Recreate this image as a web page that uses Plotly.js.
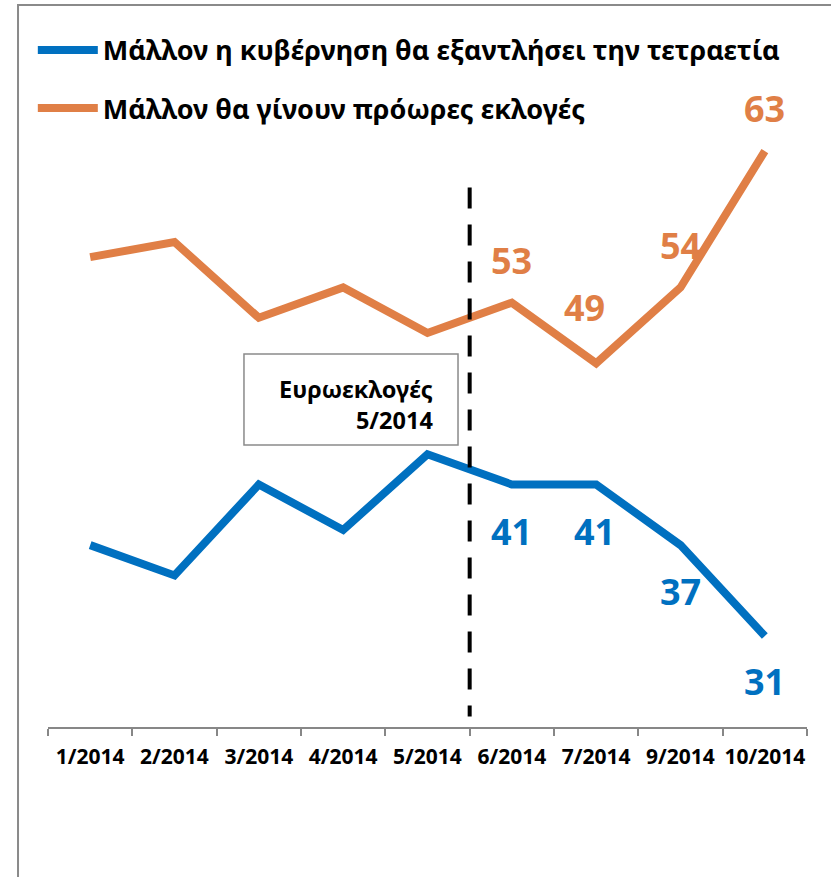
<!DOCTYPE html>
<html>
<head>
<meta charset="utf-8">
<script src="https://cdn.plot.ly/plotly-3.0.1.min.js"></script>
<style>html,body{margin:0;padding:0;background:#fff;}#chart{width:831px;height:877px;}</style>
</head>
<body>
<div id="chart"></div>
<script>
const categories = ["1/2014","2/2014","3/2014","4/2014","5/2014","6/2014","7/2014","9/2014","10/2014"];
const seriesNames = ["Μάλλον η κυβέρνηση θα εξαντλήσει την τετραετία", "Μάλλον θα γίνουν πρόωρες εκλογές"];
const governmentLasts = [37, 35, 41, 38, 43, 41, 41, 37, 31];
const earlyElections = [56, 57, 52, 54, 51, 53, 49, 54, 63];
const labelledIdx = [5, 6, 7, 8];
const eventLabel = "Ευρωεκλογές<br>5/2014";
const eventPosition = 4.5;

const BLUE = "#0070C0";
const ORANGE = "#E07F46";
const FONT = "Noto Sans, DejaVu Sans, sans-serif";

const traces = [
  {x: categories, y: governmentLasts, name: seriesNames[0], type: "scatter", mode: "lines",
   line: {color: BLUE, width: 8, shape: "linear"}, legendgroup: "a", hoverinfo: "skip"},
  {x: categories, y: earlyElections, name: seriesNames[1], type: "scatter", mode: "lines",
   line: {color: ORANGE, width: 8}, legendgroup: "b", hoverinfo: "skip"}
];

const annotations = [];
const orangeShift = {5: [0, 42], 6: [-12, 56], 7: [0, 42], 8: [0, 43]};
const blueShift = {5: [0, -47], 6: [-2, -47], 7: [0, -46], 8: [0, -45]};
labelledIdx.forEach(i => {
  annotations.push({x: categories[i], y: earlyElections[i], text: String(earlyElections[i]), showarrow: false,
    xshift: orangeShift[i][0], yshift: orangeShift[i][1], font: {family: FONT, size: 36, color: ORANGE, weight: "bold"}});
  annotations.push({x: categories[i], y: governmentLasts[i], text: String(governmentLasts[i]), showarrow: false,
    xshift: blueShift[i][0], yshift: blueShift[i][1], font: {family: FONT, size: 36, color: BLUE, weight: "bold"}});
});
annotations.push({xref: "paper", yref: "paper", x: 0.5099, y: 0.4736, xanchor: "right", yanchor: "middle",
  text: eventLabel, align: "right", showarrow: false, font: {family: FONT, size: 23.5, color: "#000", weight: "bold"}});

const layout = {
  width: 831, height: 877,
  margin: {l: 48, r: 24, t: 45, b: 150},
  paper_bgcolor: "#fff", plot_bgcolor: "#fff",
  showlegend: true,
  legend: {x: -0.02, xanchor: "left", y: 1.028, yanchor: "top", orientation: "v",
    font: {family: FONT, size: 27, color: "#000", weight: "bold"}, tracegroupgap: 20, itemwidth: 60,
    bgcolor: "rgba(0,0,0,0)"},
  xaxis: {type: "category", range: [-0.5, 8.5], showgrid: false, zeroline: false,
    showline: true, linecolor: "#878787", linewidth: 2, ticks: "outside", tickson: "boundaries",
    ticklen: 7, tickwidth: 2, tickcolor: "#878787", tickangle: 0, ticklabelstandoff: 10,
    tickfont: {family: FONT, size: 21, color: "#000", weight: "bold"}, fixedrange: true},
  yaxis: {range: [25, 70], visible: false, showgrid: false, zeroline: false, fixedrange: true},
  shapes: [
    {type: "line", xref: "x", yref: "y", x0: eventPosition, x1: eventPosition, y0: 60.6, y1: 25.7,
     line: {color: "#000", width: 4, dash: "21px,16px"}},
    {type: "rect", xref: "paper", yref: "paper", x0: 0.2582, x1: 0.5402, y0: 0.4135, y1: 0.5469,
     line: {color: "#8a8a8a", width: 1.5}, fillcolor: "#fff", layer: "above"},
    {type: "rect", xref: "paper", yref: "paper", x0: -0.0395, x1: 1.2, y0: -0.4, y1: 1.0587,
     line: {color: "#8a8a8a", width: 2}, fillcolor: "rgba(0,0,0,0)", layer: "below"}
  ],
  annotations: annotations
};

Plotly.newPlot("chart", traces, layout, {displayModeBar: false, staticPlot: true});
</script>
</body>
</html>
